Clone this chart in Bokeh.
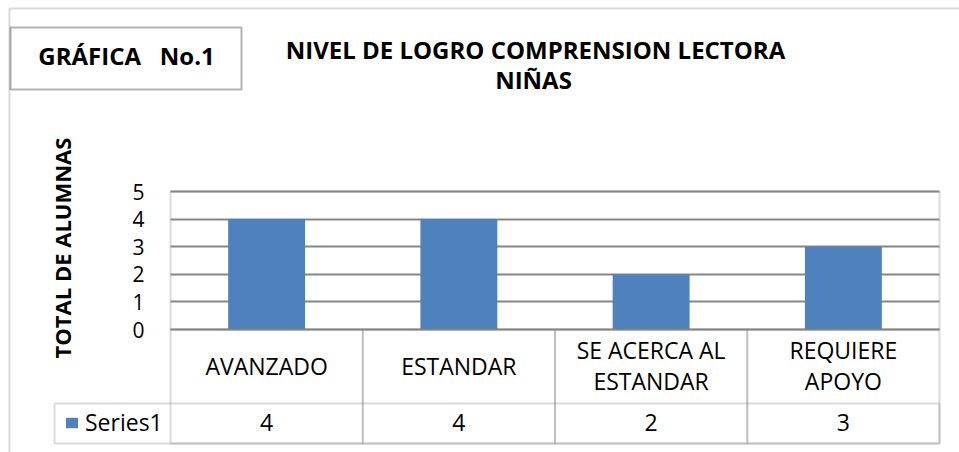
from bokeh.plotting import figure
from bokeh.models import (Range1d, FixedTicker, Label, BoxAnnotation, Legend, LegendItem)
from bokeh.embed import file_html
from bokeh.resources import INLINE

# ---- data ----
categories = ["AVANZADO", "ESTANDAR", "SE ACERCA AL ESTANDAR", "REQUIERE APOYO"]
category_labels = ["AVANZADO", "ESTANDAR", "SE ACERCA AL\nESTANDAR", "REQUIERE\nAPOYO"]
series1 = [4, 4, 2, 3]
series_name = "Series1"
y_ticks = [0, 1, 2, 3, 4, 5]
title_line1 = "NIVEL DE LOGRO COMPRENSION LECTORA"
title_line2 = "NIÑAS"
badge_text = "GRÁFICA\u00a0\u00a0\u00a0No.1"
y_title = "TOTAL DE ALUMNAS"

# ---- layout (pixels) ----
W, H = 959, 452
PL, PR, PT, PB = 170, 939, 191, 329      # plot area edges
TABLE_MID, TABLE_BOTTOM, CELL_LEFT = 403, 443, 54
FONT = "Open Sans"
GRID = "#868686"
BAR = "#4F81BD"

n = len(categories)
ymax = max(y_ticks)
xu = (PR - PL) / n          # px per category
yu = (PB - PT) / ymax       # px per value unit


def sy(py):                 # page pixel row -> screen units (from bottom)
    return H - py


p = figure(width=W, height=H, output_backend="svg", toolbar_location=None, title=None,
           x_range=Range1d(-PL / xu, n + (W - PR) / xu),
           y_range=Range1d(-(H - PB) / yu, ymax + PT / yu),
           x_axis_location=None, min_border=0,
           min_border_left=0, min_border_right=0, min_border_top=0, min_border_bottom=0)
p.outline_line_color = None
p.background_fill_color = "white"
p.border_fill_color = "white"

xs = [i + 0.5 for i in range(n)]
r = p.vbar(x=xs, top=series1, width=0.4, fill_color=BAR, line_color=None)

# grid limited to the plot area
p.xgrid.visible = False
p.ygrid.ticker = FixedTicker(ticks=y_ticks)
p.ygrid.grid_line_color = GRID
p.ygrid.grid_line_width = 2
try:
    p.ygrid.cross_bounds = (0, n)
except Exception:
    p.ygrid.visible = False
    p.segment(x0=[0] * len(y_ticks), x1=[n] * len(y_ticks), y0=y_ticks, y1=y_ticks,
              line_color=GRID, line_width=2)

# y axis drawn at the left edge of the plot area
ax = p.yaxis[0]
ax.fixed_location = 0
ax.ticker = FixedTicker(ticks=y_ticks)
ax.bounds = (0, ymax + 0.9)   # centres the axis title like the reference
ax.axis_line_color = None
ax.major_tick_line_color = None
ax.minor_tick_line_color = None
ax.major_tick_out = 0
ax.major_tick_in = 0
ax.major_label_standoff = 26
ax.major_label_text_font = FONT
ax.major_label_text_font_size = "21px"
ax.major_label_text_color = "black"
ax.axis_label = y_title
ax.axis_label_text_font = FONT
ax.axis_label_text_font_size = "22px"
ax.axis_label_text_font_style = "bold"
ax.axis_label_text_color = "black"
ax.axis_label_standoff = 52


def add_label(text, x, y, size, bold=False, x_units="screen", **kw):
    p.add_layout(Label(x=x, y=y, x_units=x_units, y_units="screen", text=text,
                       text_font=FONT, text_font_size=size,
                       text_font_style="bold" if bold else "normal",
                       text_align="center", text_baseline="middle",
                       text_color="black", **kw))


def add_box(left, right, top, bottom, color=GRID, width=2,
            left_units="screen", right_units="screen",
            top_units="screen", bottom_units="screen"):
    p.add_layout(BoxAnnotation(left=left, right=right, top=top, bottom=bottom,
                               left_units=left_units, right_units=right_units,
                               top_units=top_units, bottom_units=bottom_units,
                               fill_color=None, fill_alpha=0,
                               line_color=color, line_width=width))


# outer chart border (only top/left visible in the crop)
add_box(9, 5000, sy(8), -5000, color="#7F7F7F", width=2)

# plot area border
add_box(0, n, ymax, 0, left_units="data", right_units="data",
        top_units="data", bottom_units="data")

# badge box + titles
add_box(10, 241, sy(27), sy(89), color="black", width=2)
add_label(badge_text, 126, sy(54.5), "24px", bold=True)
add_label(title_line1, 535, sy(49), "24px", bold=True)
add_label(title_line2, 533, sy(79), "24px", bold=True)

# data table below the plot
for i, (lbl, v) in enumerate(zip(category_labels, series1)):
    add_box(i, i + 1, sy(PB), sy(TABLE_BOTTOM), left_units="data", right_units="data")
    add_label(lbl, i + 0.5, sy(365), "23px", x_units="data", text_line_height=0.95)
    add_label(str(v), i + 0.5, sy(421.5), "23px", x_units="data")
add_box(CELL_LEFT, n, sy(TABLE_MID), sy(TABLE_BOTTOM), right_units="data")

legend = Legend(items=[LegendItem(label=series_name, renderers=[r])],
                location=(64, sy(438)), padding=0, margin=0, spacing=0,
                border_line_color=None, background_fill_alpha=0,
                glyph_width=15, glyph_height=13, label_standoff=6,
                label_height=13, label_text_font=FONT,
                label_text_font_size="23px", label_text_color="black")
p.add_layout(legend)

open("out.html", "w").write(file_html(p, INLINE))
